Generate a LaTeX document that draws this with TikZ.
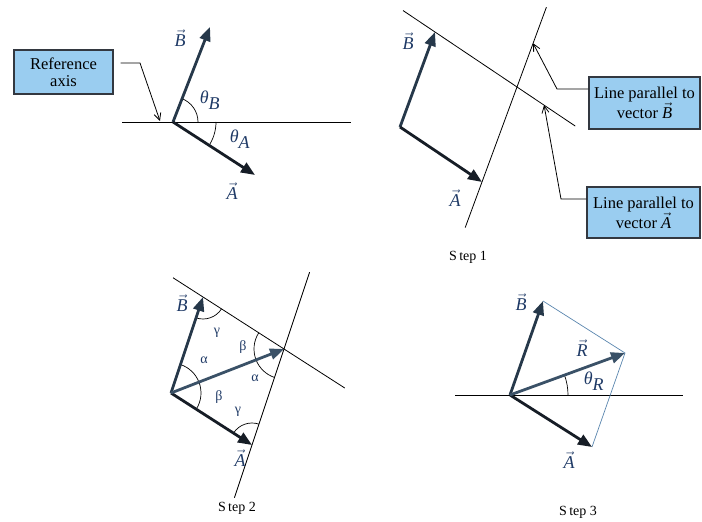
\RequirePackage{fix-cm}
\documentclass[tikz,border=0pt]{standalone}
\usepackage{fontspec}
\setmainfont{Liberation Serif}
\usetikzlibrary{arrows.meta,calc}
\definecolor{colA}{HTML}{161D26}
\definecolor{colB}{HTML}{26384A}
\definecolor{colR}{HTML}{3A5167}
\definecolor{navy}{HTML}{1F3A66}
\definecolor{boxfill}{HTML}{9ACDF0}
\definecolor{boxline}{HTML}{333840}
\definecolor{thinblue}{HTML}{5A86AE}
\newcommand{\vlab}[1]{$\vec{\textit{#1}}$}
\newcommand{\thlab}[1]{$\textit{θ}_{\textit{#1}}$}
\begin{document}
\begin{tikzpicture}[x=1pt,y=1pt,
  vecA/.style={line width=2.8pt,draw=colA,-{Triangle[length=14pt,width=11pt]}},
  vecB/.style={line width=2.8pt,draw=colB,-{Triangle[length=14pt,width=11pt]}},
  vecR/.style={line width=2.8pt,draw=colR,-{Triangle[length=14pt,width=11pt]}},
  thinline/.style={line width=0.8pt,draw=black},
  anglearc/.style={line width=0.7pt,draw=black},
  sideline/.style={line width=0.7pt,draw=thinblue},
  callout/.style={line width=0.8pt,draw=black,-{Straight Barb[length=7pt,width=7pt]}},
  vlabel/.style={text=navy,font=\fontsize{18}{20}\selectfont,inner sep=0pt},
  glabel/.style={text=navy,font=\fontsize{14}{14}\selectfont,inner sep=0pt},
  infobox/.style={draw=boxline,line width=1.3pt,fill=boxfill,align=center,inner sep=2pt},
  steplabel/.style={font=\fontsize{14}{14}\selectfont,inner sep=0pt}
]
\path[use as bounding box] (0,0) rectangle (702,522);

% ---------- Panel 1 ----------
\coordinate (O1) at (173,400);
\coordinate (B1) at (210,495);
\coordinate (A1) at (255,347);
\coordinate (L1a) at (122,400);
\coordinate (L1b) at (351,400);
\draw[thinline] (L1a) -- (L1b);
\draw[anglearc] ([shift=(0:25)]O1) arc (0:68.7:25);
\draw[anglearc] ([shift=(0:43)]O1) arc (0:-32.9:43);
\draw[vecB] (O1) -- (B1);
\draw[vecA] (O1) -- (A1);
\node[vlabel] (lB1) at (180,484) {\vlab{B}};
\node[vlabel] (lA1) at (232,331) {\vlab{A}};
\node[vlabel] (thB) at (210,422) {\thlab{B}};
\node[vlabel] (thA) at (240,383) {\thlab{A}};
\node[infobox,minimum width=99pt,minimum height=44pt,font=\fontsize{16.5}{17}\selectfont] (ref) at (63.5,450) {Reference\\axis};
\coordinate (c1) at (140,459);
\coordinate (t1) at (160,401);
\draw[callout] ($(ref.east)+(7,9)$) -- (c1) -- (t1);

% ---------- Panel 2 (Step 1) ----------
\coordinate (O2) at (400,395);
\coordinate (B2) at (435,490);
\coordinate (A2) at (482,340);
\coordinate (R2) at ($(B2)+(A2)-(O2)$);
\draw[thinline] ($(A2)!-0.48!(R2)$) -- ($(A2)!1.84!(R2)$);
\draw[thinline] ($(B2)!-0.39!(R2)$) -- ($(B2)!1.71!(R2)$);
\draw[vecB] (O2) -- (B2);
\draw[vecA] (O2) -- (A2);
\node[vlabel] (lB2) at (408,481) {\vlab{B}};
\node[vlabel] (lA2) at (455,324) {\vlab{A}};
\node[infobox,minimum width=111pt,minimum height=52pt,font=\fontsize{16.5}{20}\selectfont] (box1) at (644.5,419) {Line parallel to\\vector \vlab{B}};
\node[infobox,minimum width=113pt,minimum height=51pt,font=\fontsize{16.5}{20}\selectfont] (box2) at (643.5,309.5) {Line parallel to\\vector \vlab{A}};
\coordinate (c2) at (557,433);
\coordinate (t2) at ($(A2)!1.46!(R2)$);
\draw[callout] ($(box1.west)+(0,14)$) -- (c2) -- (t2);
\coordinate (c3) at (561,323);
\coordinate (t3) at ($(B2)!1.33!(R2)$);
\draw[callout] ($(box2.west)+(0,13.5)$) -- (c3) -- (t3);
\node[steplabel] (s1) at (468,265) {S\,tep 1};

% ---------- Panel 3 (Step 2) ----------
\coordinate (O3) at (171,129);
\coordinate (B3) at (203,225);
\coordinate (A3) at (252,77);
\coordinate (R3) at ($(B3)+(A3)-(O3)$);
\draw[thinline] ($(B3)!-0.37!(R3)$) -- ($(B3)!1.75!(R3)$);
\draw[thinline] ($(A3)!-0.55!(R3)$) -- ($(A3)!1.8!(R3)$);
% angle arcs
\draw[anglearc] ([shift=(251.6:22)]B3) arc (251.6:327.3:22);
\draw[anglearc] ([shift=(147.3:30)]R3) arc (147.3:201.3:30);
\draw[anglearc] ([shift=(201.3:30)]R3) arc (201.3:251.6:30);
\draw[anglearc] ([shift=(21.3:30)]O3) arc (21.3:71.6:30);
\draw[anglearc] ([shift=(-32.7:30)]O3) arc (-32.7:21.3:30);
\draw[anglearc] ([shift=(71.6:22)]A3) arc (71.6:147.3:22);
\draw[vecB] (O3) -- (B3);
\draw[vecA] (O3) -- (A3);
\draw[vecR] (O3) -- (R3);
\node[vlabel] (lB3) at (182,219) {\vlab{B}};
\node[vlabel] (lA3) at (240,64) {\vlab{A}};
\node[glabel] (g1) at (217,189) {γ};
\node[glabel] (b1) at (243,175) {β};
\node[glabel] (a1) at (204,162) {α};
\node[glabel] (a2) at (255,144) {α};
\node[glabel] (b2) at (219,125) {β};
\node[glabel] (g2) at (238,110) {γ};
\node[steplabel] (s2) at (237,14) {S\,tep 2};

% ---------- Panel 4 (Step 3) ----------
\coordinate (O4) at (510,127);
\coordinate (B4) at (543,221);
\coordinate (A4) at (592,75);
\coordinate (R4) at ($(B4)+(A4)-(O4)$);
\coordinate (L4a) at (455,127);
\coordinate (L4b) at (683,127);
\draw[thinline] (L4a) -- (L4b);
\draw[sideline] (B4) -- (R4) -- (A4);
\draw[anglearc] ([shift=(0:58)]O4) arc (0:20.1:58);
\draw[vecB] (O4) -- (B4);
\draw[vecA] (O4) -- (A4);
\draw[vecR] (O4) -- (R4);
\node[vlabel] (lB4) at (521,220) {\vlab{B}};
\node[vlabel] (lA4) at (569,62) {\vlab{A}};
\node[vlabel] (lR4) at (582,174) {\vlab{R}};
\node[vlabel] (thR) at (594,141) {\thlab{R}};
\node[steplabel] (s3) at (578,10) {S\,tep 3};
\end{tikzpicture}
\end{document}
